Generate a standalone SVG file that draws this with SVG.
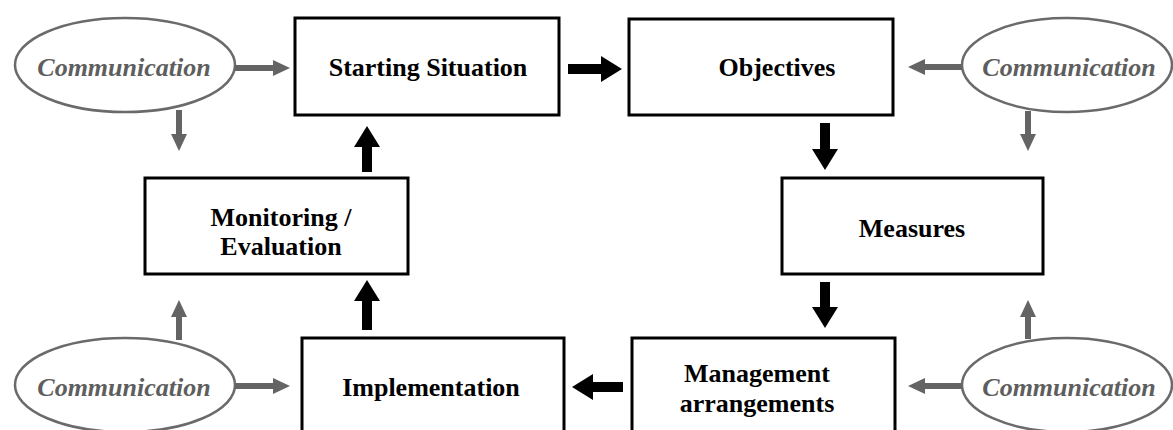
<svg xmlns="http://www.w3.org/2000/svg" width="1173" height="430" viewBox="0 0 1173 430">
<style>
.box{fill:#fff;stroke:#000;stroke-width:3}
.ell{fill:#fff;stroke:#6a6a6a;stroke-width:2.5}
.t{font-family:"Liberation Serif","Times New Roman",serif;font-weight:bold;font-size:26px;fill:#000;text-anchor:middle}
.c{font-family:"Liberation Serif","Times New Roman",serif;font-weight:bold;font-style:italic;font-size:26px;fill:#5e5e5e;text-anchor:middle}
.ba{stroke:#000;stroke-width:10;fill:none;marker-end:url(#bh)}
.ga{stroke:#646464;stroke-width:6;fill:none;marker-end:url(#gh)}
</style>
<defs>
<marker id="bh" markerUnits="userSpaceOnUse" markerWidth="21" markerHeight="26" refX="0" refY="13" orient="auto" overflow="visible">
<path d="M0,0 L21,13 L0,26 z" fill="#000"/>
</marker>
<marker id="gh" markerUnits="userSpaceOnUse" markerWidth="17" markerHeight="16" refX="0" refY="8" orient="auto" overflow="visible">
<path d="M0,0 L17,8 L0,16 z" fill="#646464"/>
</marker>
</defs>
<rect width="1173" height="430" fill="#fff"/>
<g id="starting">
<rect class="box" x="295" y="18" width="264" height="97"/>
<text class="t" x="428" y="76">Starting Situation</text>
</g>
<g id="objectives">
<rect class="box" x="629" y="19" width="264" height="96"/>
<text class="t" x="777" y="76">Objectives</text>
</g>
<g id="measures">
<rect class="box" x="782" y="178" width="261" height="96"/>
<text class="t" x="912" y="237">Measures</text>
</g>
<g id="monitoring">
<rect class="box" x="145" y="178" width="263" height="96"/>
<text class="t" x="281" y="226">Monitoring /</text>
<text class="t" x="281" y="255">Evaluation</text>
</g>
<g id="implementation">
<rect class="box" x="302" y="338" width="262" height="100"/>
<text class="t" x="431" y="396">Implementation</text>
</g>
<g id="management">
<rect class="box" x="632" y="338" width="263" height="100"/>
<text class="t" x="757" y="382">Management</text>
<text class="t" x="757" y="412">arrangements</text>
</g>
<g id="comm-tl">
<ellipse class="ell" cx="125" cy="65" rx="110" ry="47"/>
<text class="c" x="124" y="76">Communication</text>
</g>
<g id="comm-tr">
<ellipse class="ell" cx="1067" cy="65" rx="105" ry="47"/>
<text class="c" x="1069" y="76">Communication</text>
</g>
<g id="comm-bl">
<ellipse class="ell" cx="125" cy="385" rx="110" ry="47"/>
<text class="c" x="124" y="396">Communication</text>
</g>
<g id="comm-br">
<ellipse class="ell" cx="1067" cy="385" rx="105" ry="47"/>
<text class="c" x="1069" y="396">Communication</text>
</g>
<g id="connectors">
<line class="ba" x1="568" y1="69" x2="601" y2="69"/>
<line class="ba" x1="825" y1="123" x2="825" y2="149"/>
<line class="ba" x1="825" y1="282" x2="825" y2="307"/>
<line class="ba" x1="623" y1="387" x2="593" y2="387"/>
<line class="ba" x1="367" y1="330" x2="367" y2="301"/>
<line class="ba" x1="367" y1="172" x2="367" y2="147"/>
<line class="ga" x1="235" y1="68" x2="273" y2="68"/>
<line class="ga" x1="179" y1="110" x2="179" y2="134"/>
<line class="ga" x1="179" y1="340" x2="179" y2="317"/>
<line class="ga" x1="235" y1="386" x2="273" y2="386"/>
<line class="ga" x1="962" y1="67" x2="925" y2="67"/>
<line class="ga" x1="1028" y1="111" x2="1028" y2="134"/>
<line class="ga" x1="962" y1="386" x2="925" y2="386"/>
<line class="ga" x1="1028" y1="339" x2="1028" y2="317"/>
</g>
</svg>
